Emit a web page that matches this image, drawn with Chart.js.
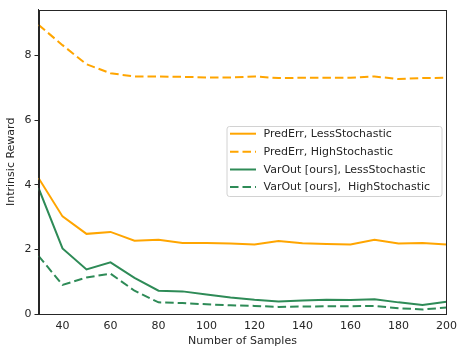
<!DOCTYPE html>
<html>
<head>
<meta charset="utf-8">
<script src="https://cdn.jsdelivr.net/npm/chart.js@4.4.1/dist/chart.umd.min.js"></script>
<style>
html,body{margin:0;padding:0;background:#fff;}
#wrap{width:459px;height:348px;position:relative;}
</style>
</head>
<body>
<div id="wrap"><canvas id="c" width="459" height="348"></canvas></div>
<script>
const samples = [30,40,50,60,70,80,90,100,110,120,130,140,150,160,170,180,190,200];
const predErrLess = [4.21,3.02,2.48,2.54,2.27,2.30,2.20,2.20,2.18,2.15,2.26,2.19,2.17,2.15,2.30,2.18,2.20,2.15];
const predErrHigh = [8.95,8.32,7.73,7.45,7.35,7.35,7.34,7.32,7.32,7.35,7.30,7.31,7.31,7.31,7.35,7.27,7.30,7.31];
const varOutLess = [3.90,2.03,1.38,1.60,1.12,0.72,0.70,0.60,0.51,0.44,0.39,0.42,0.44,0.43,0.46,0.36,0.28,0.38];
const varOutHigh = [1.80,0.90,1.13,1.25,0.72,0.36,0.34,0.30,0.27,0.25,0.22,0.23,0.24,0.24,0.25,0.18,0.14,0.20];
const seriesLabels = ['PredErr, LessStochastic','PredErr, HighStochastic','VarOut [ours], LessStochastic','VarOut [ours],  HighStochastic'];
const xTicks = [40,60,80,100,120,140,160,180,200];
const yTicks = [0,2,4,6,8];

const ORANGE = 'rgb(255,165,0)';
const GREEN = 'rgb(46,139,87)';
const DASH = [8.5,4];
const FONT = 'DejaVu Sans';

function mk(vals){ return vals.map((v,i)=>({x:samples[i], y:v})); }

const frame = {
  id:'frame',
  afterDatasetsDraw(chart){
    const {ctx, chartArea:a} = chart;
    ctx.save();
    ctx.strokeStyle = '#262626';
    ctx.lineWidth = 1;
    ctx.strokeRect(Math.round(a.left)+0.5, Math.round(a.top)+0.5, Math.round(a.right-a.left)-1, Math.round(a.bottom-a.top));
    ctx.restore();
  }
};

const legendBox = {
  id:'legendBox',
  afterDraw(chart){
    const ctx = chart.ctx;
    const x0 = 227, y0 = 126.5, w = 215, h = 70;
    ctx.save();
    ctx.fillStyle = 'rgba(255,255,255,0.85)';
    ctx.strokeStyle = 'rgb(210,210,210)';
    ctx.lineWidth = 1;
    const r = 2.5;
    ctx.beginPath();
    ctx.moveTo(x0+r,y0); ctx.lineTo(x0+w-r,y0); ctx.quadraticCurveTo(x0+w,y0,x0+w,y0+r);
    ctx.lineTo(x0+w,y0+h-r); ctx.quadraticCurveTo(x0+w,y0+h,x0+w-r,y0+h);
    ctx.lineTo(x0+r,y0+h); ctx.quadraticCurveTo(x0,y0+h,x0,y0+h-r);
    ctx.lineTo(x0,y0+r); ctx.quadraticCurveTo(x0,y0,x0+r,y0);
    ctx.closePath(); ctx.fill(); ctx.stroke();
    const rows = [133.7, 151.7, 169.5, 187];
    chart.data.datasets.forEach((ds,i)=>{
      const y = rows[i];
      ctx.strokeStyle = ds.borderColor;
      ctx.lineWidth = 2;
      ctx.setLineDash(ds.borderDash || []);
      ctx.beginPath(); ctx.moveTo(230,y); ctx.lineTo(256,y); ctx.stroke();
      ctx.setLineDash([]);
      ctx.fillStyle = '#262626';
      ctx.font = '11px "'+FONT+'"';
      ctx.textBaseline = 'middle';
      ctx.textAlign = 'left';
      ctx.fillText(ds.label, 263.5, y+0.5);
    });
    ctx.restore();
  }
};

new Chart(document.getElementById('c'), {
  type:'line',
  data:{
    datasets:[
      {label:seriesLabels[0], data:mk(predErrLess), borderColor:ORANGE, borderWidth:2, pointRadius:0, tension:0, fill:false},
      {label:seriesLabels[1], data:mk(predErrHigh), borderColor:ORANGE, borderWidth:2, borderDash:DASH, pointRadius:0, tension:0, fill:false},
      {label:seriesLabels[2], data:mk(varOutLess), borderColor:GREEN, borderWidth:2, pointRadius:0, tension:0, fill:false},
      {label:seriesLabels[3], data:mk(varOutHigh), borderColor:GREEN, borderWidth:2, borderDash:DASH, pointRadius:0, tension:0, fill:false}
    ]
  },
  options:{
    responsive:false,
    animation:false,
    devicePixelRatio:1,
    layout:{padding:{left:0,right:11,top:8,bottom:0}},
    plugins:{legend:{display:false}, tooltip:{enabled:false}},
    scales:{
      x:{
        type:'linear', min:30, max:200,
        afterBuildTicks(s){ s.ticks = xTicks.map(v=>({value:v})); },
        afterFit(s){ s.height = 34; },
        grid:{display:false, drawTicks:true, tickLength:4, tickColor:'#262626', drawOnChartArea:false},
        border:{display:true, color:'#262626', width:1},
        ticks:{color:'#262626', font:{family:FONT, size:11}, padding:2, maxRotation:0, autoSkip:false},
        title:{display:true, text:'Number of Samples', color:'#262626', font:{family:FONT, size:11}, padding:{top:2,bottom:0}}
      },
      y:{
        type:'linear', min:0, max:9.42,
        afterBuildTicks(s){ s.ticks = yTicks.map(v=>({value:v})); },
        afterFit(s){ s.width = 38.5; },
        grid:{display:true, drawOnChartArea:false, drawTicks:true, tickLength:4, tickColor:'#262626'},
        border:{display:true, color:'#262626', width:1},
        ticks:{color:'#262626', font:{family:FONT, size:11}, padding:3},
        title:{display:true, text:'Intrinsic Reward', color:'#262626', font:{family:FONT, size:11}, padding:{top:5,bottom:0}}
      }
    }
  },
  plugins:[frame, legendBox]
});
</script>
</body>
</html>
